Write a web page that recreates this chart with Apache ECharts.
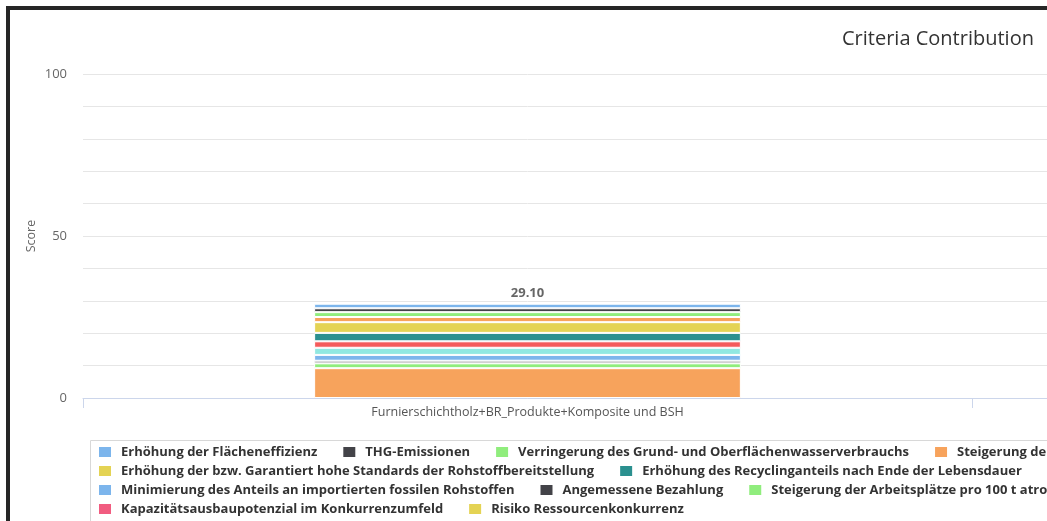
<!DOCTYPE html>
<html>
<head>
<meta charset="utf-8">
<script src="https://cdn.jsdelivr.net/npm/echarts@6/dist/echarts.min.js"></script>
<style>
  html, body { margin: 0; padding: 0; overflow: hidden; background: #fff; width: 1047px; height: 521px; }
  #frame { position: absolute; left: 6px; top: 6px; border: 4px solid #262626; width: 1880px; height: 600px; background: #fff; }
  #chart { width: 1880px; height: 600px; }
</style>
</head>
<body>
<div id="frame"><div id="chart"></div></div>
<script>
// ---- data ----
var categories = ['Furnierschichtholz+BR_Produkte+Komposite und BSH', ''];
var seriesNames = [
  'Erhöhung der Flächeneffizienz',
  'THG-Emissionen',
  'Verringerung des Grund- und Oberflächenwasserverbrauchs',
  'Steigerung der Biodiversität',
  'Reduzierung des Primärenergiebedarfs',
  'Verringerung der Schadstoffemissionen',
  'Erhöhung der bzw. Garantiert hohe Standards der Rohstoffbereitstellung',
  'Erhöhung des Recyclinganteils nach Ende der Lebensdauer',
  'Erhöhung der Kaskadennutzung',
  'Verlängerung der Lebensdauer',
  'Minimierung des Anteils an importierten fossilen Rohstoffen',
  'Angemessene Bezahlung',
  'Steigerung der Arbeitsplätze pro 100 t atro',
  'Regionale Wertschöpfung',
  'Gesundheit und Sicherheit',
  'Kapazitätsausbaupotenzial im Konkurrenzumfeld',
  'Risiko Ressourcenkonkurrenz'
];
// values per series for [category 1, category 2]
var seriesValues = [
  [1.4, null],
  [1.2, null],
  [1.5, null],
  [1.6, null],
  [0, null],
  [0, null],
  [3.3, null],
  [2.6, null],
  [2.0, null],
  [2.2, null],
  [1.8, null],
  [0.8, null],
  [1.5, null],
  [9.2, null],
  [0, null],
  [0, null],
  [0, null]
];
var seriesColors = [
  '#7cb5ec', '#434348', '#90ed7d', '#f7a35c', '#8085e9', '#f15c80',
  '#e4d354', '#2b908f', '#f45b5b', '#91e8e1',
  '#7cb5ec', '#434348', '#90ed7d', '#f7a35c', '#8085e9',
  '#f15c80', '#e4d354'
];
var totals = [29.10, null];
var yTicks = [0, 50, 100];
// legend rows (indices into seriesNames)
var legendRows = [[0,1,2,3,4,5],[6,7,8,9],[10,11,12,13,14],[15,16]];

// ---- build ----
var FONT = 'Open Sans';
var legends = legendRows.map(function (row, r) {
  return {
    data: row.map(function (i) { return seriesNames[i]; }),
    left: 87, top: 435 + r * 19,
    orient: 'horizontal',
    padding: 0,
    itemGap: 24,
    itemWidth: 14, itemHeight: 12,
    icon: 'rect',
    textStyle: { fontFamily: FONT, fontSize: 13, fontWeight: 'bold', color: '#333', padding: [0, 0, 0, 4], lineHeight: 14 },
    selectedMode: false
  };
});

var series = [];
for (var k = seriesNames.length - 1; k >= 0; k--) {
  (function (i) {
    var s = {
      name: seriesNames[i],
      type: 'bar',
      stack: 'total',
      barWidth: '48%',
      color: seriesColors[i],
      itemStyle: { color: seriesColors[i], borderColor: '#fff', borderWidth: 1 },
      emphasis: { disabled: true },
      data: seriesValues[i].map(function (v) { return v === 0 ? null : v; })
    };
    if (i === 0) {
      s.label = {
        show: true, position: 'top', distance: 4,
        fontFamily: FONT, fontSize: 13, fontWeight: 'bold', color: '#666',
        formatter: function (p) { return totals[p.dataIndex] == null ? '' : totals[p.dataIndex].toFixed(2); }
      };
    }
    series.push(s);
  })(k);
}

var chart = echarts.init(document.getElementById('chart'), null, { renderer: 'canvas' });
chart.setOption({
  animation: false,
  title: {
    text: 'Criteria Contribution',
    left: 827, top: 14,
    textStyle: { fontFamily: FONT, fontSize: 20, fontWeight: 'normal', color: '#333' }
  },
  legend: legends,
  graphic: [{
    type: 'rect', left: 78, top: 428, silent: true,
    shape: { width: 1770, height: 110 },
    style: { fill: 'none', stroke: '#d8d8d8', lineWidth: 1 }
  }],
  grid: { left: 73, top: 64, width: 1778, height: 324, containLabel: false },
  xAxis: {
    type: 'category',
    data: categories,
    axisLine: { lineStyle: { color: '#ccd6eb' } },
    axisTick: { show: true, length: 10, lineStyle: { color: '#ccd6eb' } },
    axisLabel: { fontFamily: FONT, fontSize: 12.5, color: '#555', margin: 8 }
  },
  yAxis: {
    type: 'value', min: 0, max: 100, interval: 10,
    name: 'Score', nameLocation: 'middle', nameGap: 45, nameMoveOverlap: false,
    nameTextStyle: { fontFamily: FONT, fontSize: 12.5, color: '#666' },
    axisLine: { show: false }, axisTick: { show: false },
    splitLine: { lineStyle: { color: '#e6e6e6' } },
    axisLabel: {
      fontFamily: FONT, fontSize: 13, color: '#666', margin: 16,
      formatter: function (v) { return yTicks.indexOf(v) >= 0 ? String(v) : ''; }
    }
  },
  series: series
});
</script>
</body>
</html>
